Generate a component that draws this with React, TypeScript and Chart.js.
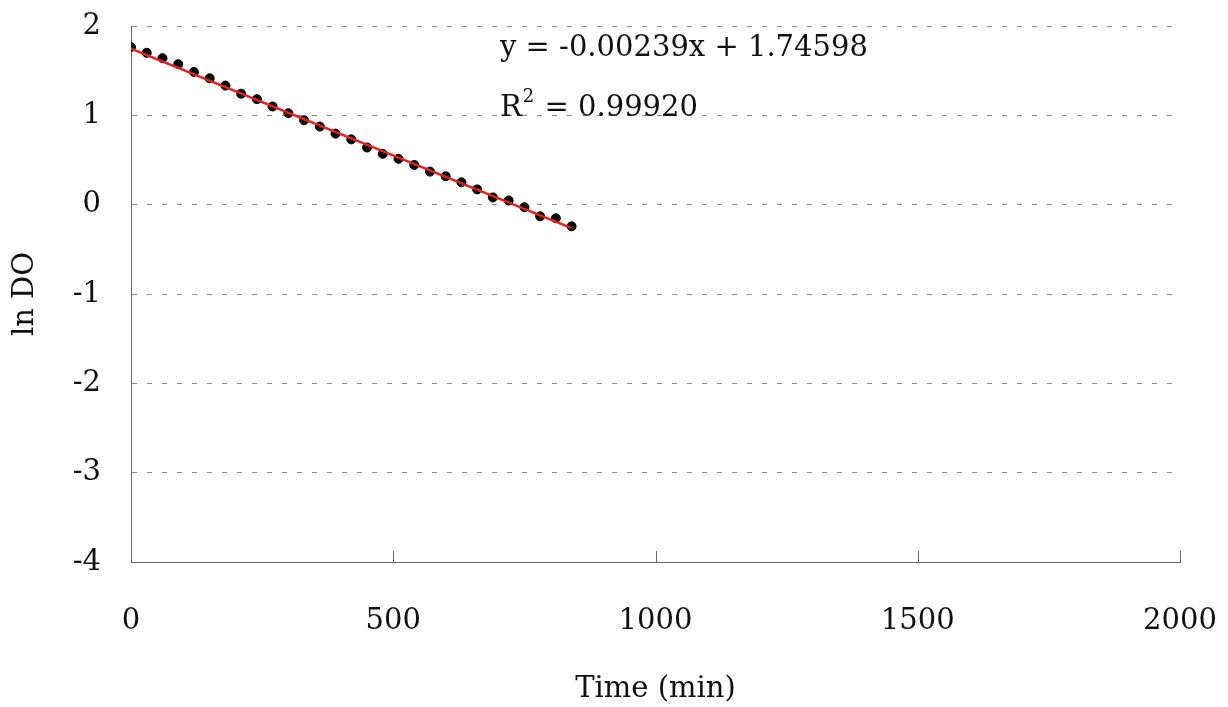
import React, { useEffect, useRef } from "react";
import { Chart, registerables } from "chart.js";

Chart.register(...registerables);

// Sampling times (min) and measured ln DO
const timeMin = [
  0, 30, 60, 90, 120, 150, 180, 210, 240, 270, 300, 330, 360, 390, 420,
  450, 480, 510, 540, 570, 600, 630, 660, 690, 720, 750, 780, 810, 840,
];
const lnDO = [
  1.764, 1.7, 1.64, 1.573, 1.486, 1.415, 1.333, 1.242, 1.181, 1.099, 1.024,
  0.945, 0.874, 0.795, 0.731, 0.64, 0.569, 0.513, 0.445, 0.37, 0.318, 0.25,
  0.171, 0.081, 0.047, -0.028, -0.13, -0.152, -0.242,
];

// Linear fit reported on the chart
const slope = -0.00239;
const intercept = 1.74598;
const rSquared = "0.99920";

const xTicks = [0, 500, 1000, 1500, 2000];
const yTicks = [-4, -3, -2, -1, 0, 1, 2];

const SERIF = "'DejaVu Serif', serif";
const FONT_SIZE = 29;

// Inward tick marks on the x axis and the fit equation text
const overlayPlugin = {
  id: "overlay",
  afterDraw(chart: any) {
    const { ctx, chartArea, scales } = chart;
    const x = scales.x;
    ctx.save();
    ctx.strokeStyle = "#666";
    ctx.lineWidth = 1;
    for (const v of xTicks) {
      if (v === 0) continue;
      const px = Math.round(x.getPixelForValue(v)) + 0.5;
      ctx.beginPath();
      ctx.moveTo(px, chartArea.bottom);
      ctx.lineTo(px, chartArea.bottom - 11);
      ctx.stroke();
    }
    ctx.fillStyle = "#111";
    ctx.textBaseline = "middle";
    ctx.textAlign = "left";
    ctx.font = `${FONT_SIZE}px ${SERIF}`;
    const tx = 500;
    const eq = `y = ${slope.toFixed(5)}x + ${intercept.toFixed(5)}`;
    ctx.fillText(eq, tx, 48);
    ctx.fillText("R", tx, 108);
    const rw = ctx.measureText("R").width;
    ctx.font = `18px ${SERIF}`;
    ctx.fillText("2", tx + rw + 1, 97);
    const sw = ctx.measureText("2").width;
    ctx.font = `${FONT_SIZE}px ${SERIF}`;
    ctx.fillText(` = ${rSquared}`, tx + rw + sw + 2, 108);
    ctx.restore();
  },
};

export default function App() {
  const canvasRef = useRef<HTMLCanvasElement | null>(null);

  useEffect(() => {
    document.body.style.margin = "0";
    const canvas = canvasRef.current;
    if (!canvas) return;
    const xEnd = timeMin[timeMin.length - 1];
    const chart = new Chart(canvas, {
      type: "scatter",
      data: {
        datasets: [
          {
            type: "line",
            label: "fit",
            data: [
              { x: 0, y: intercept },
              { x: xEnd, y: intercept + slope * xEnd },
            ],
            borderColor: "#e8201c",
            borderWidth: 2.5,
            pointRadius: 0,
            fill: false,
            order: 0,
          },
          {
            label: "ln DO",
            data: timeMin.map((t, i) => ({ x: t, y: lnDO[i] })),
            backgroundColor: "#000",
            borderColor: "#000",
            pointRadius: 4.5,
            pointHoverRadius: 4.5,
            order: 1,
          },
        ] as any,
      },
      options: {
        responsive: false,
        animation: false,
        events: [],
        layout: { padding: { top: 26, right: 48, left: 0, bottom: 0 } },
        plugins: {
          legend: { display: false },
          tooltip: { enabled: false },
        },
        scales: {
          x: {
            type: "linear",
            min: 0,
            max: 2000,
            afterBuildTicks: (s: any) => {
              s.ticks = xTicks.map((v) => ({ value: v }));
            },
            afterFit: (s: any) => {
              s.height = 145;
              s.paddingLeft = 0;
              s.paddingRight = 0;
            },
            grid: { display: false, drawTicks: false },
            border: { display: true, color: "#666", width: 1 },
            ticks: {
              padding: 42,
              color: "#111",
              font: { family: SERIF, size: FONT_SIZE },
              maxRotation: 0,
              callback: (v: any) => String(v),
            },
            title: {
              display: true,
              text: "Time (min)",
              color: "#111",
              font: { family: SERIF, size: FONT_SIZE },
              padding: { top: 0, bottom: 0 },
            },
          },
          y: {
            type: "linear",
            min: -4,
            max: 2,
            afterBuildTicks: (s: any) => {
              s.ticks = yTicks.map((v) => ({ value: v }));
            },
            afterFit: (s: any) => {
              s.width = 131;
              s.paddingTop = 0;
              s.paddingBottom = 0;
            },
            grid: {
              drawTicks: false,
              color: (c: any) => (c.tick && c.tick.value === -4 ? "rgba(0,0,0,0)" : "#8a8a8a"),
              lineWidth: 1,
            },
            border: { display: true, color: "#666", width: 1, dash: [5, 10] },
            ticks: {
              padding: 30,
              color: "#111",
              font: { family: SERIF, size: FONT_SIZE },
            },
            title: {
              display: true,
              text: "ln DO",
              color: "#111",
              font: { family: SERIF, size: FONT_SIZE },
              padding: { top: 8, bottom: 0 },
            },
          },
        },
      } as any,
      plugins: [overlayPlugin],
    });
    return () => chart.destroy();
  }, []);

  return (
    <div style={{ position: "fixed", left: 0, top: 0, width: 1228, height: 707, background: "#fff" }}>
      <canvas ref={canvasRef} width={1228} height={707} />
    </div>
  );
}
